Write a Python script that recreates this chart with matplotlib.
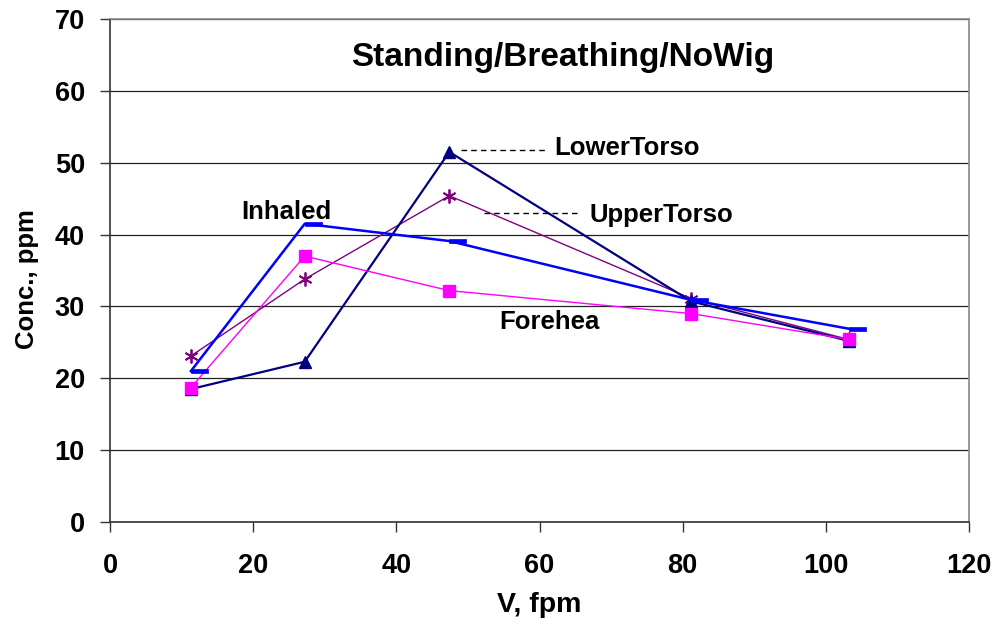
import matplotlib
matplotlib.use("Agg")
import matplotlib.pyplot as plt
from matplotlib.path import Path

# Air velocity (fpm) at each measurement
velocity = [11.3, 27.2, 47.4, 81.2, 103.2]

# Concentration (ppm) at each sampling location
inhaled = [21.0, 41.5, 39.1, 30.9, 26.9]
lower_torso = [18.5, 22.3, 51.5, 30.7, 25.2]
upper_torso = [23.1, 33.8, 45.4, 31.1, 25.4]
forehead = [18.7, 37.0, 32.2, 29.0, 25.4]

x_ticks = [0, 20, 40, 60, 80, 100, 120]
y_ticks = [0, 10, 20, 30, 40, 50, 60, 70]

plt.rcParams["font.family"] = ["Liberation Sans", "DejaVu Sans"]
plt.rcParams["font.weight"] = "bold"

fig = plt.figure(figsize=(10, 6.25), dpi=100)
ax = fig.add_axes([0.110, 0.1648, 0.859, 0.8048])

# short dash marker drawn to the right of the point
dash = Path([(0, -0.12), (1, -0.12), (1, 0.12), (0, 0.12), (0, -0.12)],
            [Path.MOVETO, Path.LINETO, Path.LINETO, Path.LINETO, Path.CLOSEPOLY])

ax.plot(velocity, upper_torso, color="#800080", lw=1.0, marker=(6, 2, 0),
        ms=10, mew=1.3, zorder=3)
ax.plot(velocity, lower_torso, color="#000080", lw=1.6, marker="^",
        ms=8, mec="#000080", zorder=3)
ax.plot(velocity, forehead, color="#FF00FF", lw=1.0, marker="s",
        ms=8, mec="#FF00FF", zorder=4)
ax.plot(velocity, inhaled, color="#0000FF", lw=1.8, marker=dash,
        ms=24, mec="#0000FF", mfc="#0000FF", mew=0.5, zorder=5)

ax.set_xlim(0, 120)
ax.set_ylim(0, 70)
ax.set_xticks(x_ticks)
ax.set_yticks(y_ticks)
ax.tick_params(axis="both", direction="out", length=7, width=1,
               labelsize=19.5, color="#333333")
ax.tick_params(axis="x", pad=15)
ax.tick_params(axis="y", pad=11)

ax.yaxis.grid(True, color="#222222", lw=0.9)
ax.set_axisbelow(True)
for side in ("left", "bottom"):
    ax.spines[side].set_color("#333333")
    ax.spines[side].set_linewidth(1.2)
for side in ("top", "right"):
    ax.spines[side].set_color("#888888")
    ax.spines[side].set_linewidth(1.2)

ax.set_xlabel("V, fpm", fontsize=20.5, fontweight="bold", labelpad=10)
ax.set_ylabel("Conc., ppm", fontsize=18.5, fontweight="bold")
ax.yaxis.set_label_coords(-0.083, 0.483)

ax.text(63.2, 64.6, "Standing/Breathing/NoWig", fontsize=24, fontweight="bold",
        ha="center", va="center")
ax.text(24.7, 43.2, "Inhaled", fontsize=18.5, fontweight="bold",
        ha="center", va="center")
ax.text(62.1, 52.0, "LowerTorso", fontsize=18.5, fontweight="bold",
        ha="left", va="center")
ax.text(67.0, 42.7, "UpperTorso", fontsize=18.5, fontweight="bold",
        ha="left", va="center")
ax.text(54.4, 27.8, "Forehea", fontsize=18.5, fontweight="bold",
        ha="left", va="center")
ax.plot([49.1, 60.8], [51.7, 51.7], color="black", lw=1, ls=(0, (4, 3)))
ax.plot([52.3, 65.4], [43.0, 43.0], color="black", lw=1, ls=(0, (4, 3)))

fig.savefig("out.png", dpi=100)
